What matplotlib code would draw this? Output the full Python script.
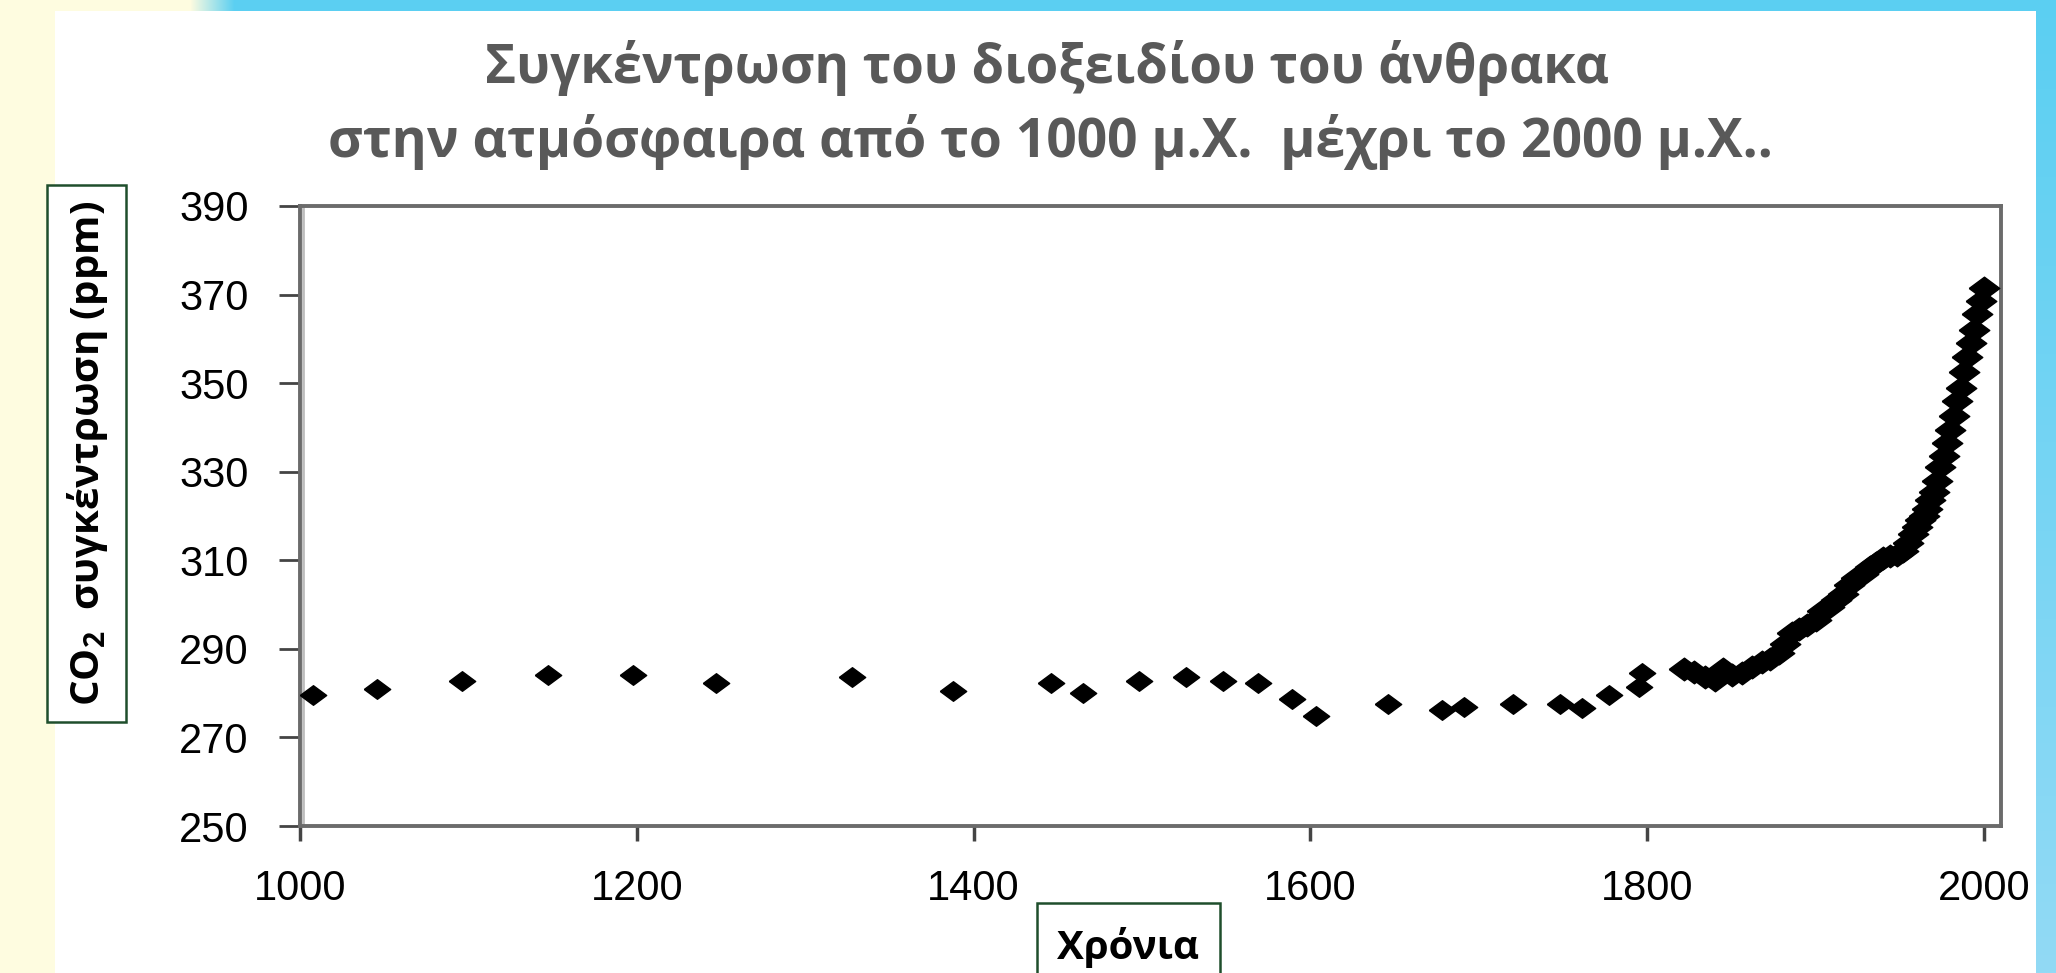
import numpy as np
import matplotlib
matplotlib.use('Agg')
import matplotlib.pyplot as plt
from matplotlib.patches import Rectangle

# early ice-core points (sparse)
years_early = [1008, 1046, 1096, 1147, 1198, 1247, 1328, 1388, 1446, 1465,
               1498, 1526, 1548, 1569, 1589, 1603, 1646, 1678, 1691, 1720,
               1748, 1761, 1777, 1795, 1797]
co2_early = [279.6, 280.9, 282.7, 284.2, 284.2, 282.2, 283.6, 280.4, 282.2, 280.0,
             282.7, 283.6, 282.7, 282.2, 278.7, 274.9, 277.5, 276.2, 276.9, 277.5,
             277.5, 276.7, 279.6, 281.3, 284.6]

# industrial era (dense)
years_late = [1822, 1828, 1834, 1840, 1845, 1850, 1856, 1862, 1868, 1873,
              1878, 1882, 1886, 1890, 1895, 1900, 1904, 1908, 1912, 1916,
              1920, 1924, 1928, 1932, 1936, 1940, 1944, 1948, 1952, 1955,
              1958, 1960, 1962, 1964, 1966, 1968, 1970, 1972, 1974, 1976,
              1978, 1980, 1982, 1984, 1986, 1988, 1990, 1992, 1994, 1996,
              1998, 2000]
co2_late = [285.5, 284.8, 283.6, 283.0, 285.5, 284.0, 284.5, 286.0, 287.0, 287.8,
            289.0, 291.0, 293.5, 294.5, 295.5, 296.5, 298.5, 299.5, 301.0, 302.5,
            304.5, 306.0, 307.0, 308.5, 309.5, 310.5, 311.0, 311.2, 312.0, 314.0,
            316.0, 317.5, 319.0, 320.0, 321.5, 323.5, 325.5, 328.0, 331.0, 333.5,
            336.5, 339.5, 342.5, 346.0, 349.0, 352.5, 356.0, 359.0, 362.0, 365.5,
            368.5, 371.5]

xticks = [1000, 1200, 1400, 1600, 1800, 2000]
yticks = [250, 270, 290, 310, 330, 350, 370, 390]

title1 = 'Συγκέντρωση του διοξειδίου του άνθρακα'
title2 = 'στην ατμόσφαιρα από το 1000 μ.Χ.  μέχρι το 2000 μ.Χ..'
ylab = 'CO$_{2}$  συγκέντρωση (ppm)'
xlab = 'Χρόνια'

W, H = 2056, 973
fig = plt.figure(figsize=(W / 100, H / 100), dpi=100)

# slide background
bg = np.ones((H, W, 3))
blue_top = np.array([0x5b, 0xcf, 0xf2]) / 255
blue_bot = np.array([0x92, 0xda, 0xf5]) / 255
yellow = np.array([0xfe, 0xfc, 0xe0]) / 255
t = np.linspace(0, 1, H)[:, None]
bg[:, 2036:] = (blue_top + (blue_bot - blue_top) * t)[:, None, :]
bg[:, :55] = yellow
bg[:11, :190] = yellow
g = np.linspace(0, 1, 45)[:, None]
bg[:11, 190:235] = (yellow + (blue_top - yellow) * g)[None, :, :]
bg[:11, 235:] = blue_top
bax = fig.add_axes([0, 0, 1, 1], zorder=-5)
bax.imshow(bg, aspect='auto', interpolation='nearest')
bax.axis('off')

def fx(px):
    return px / W

def fy(py):
    return 1 - py / H

ax = fig.add_axes([fx(300), fy(826), fx(2001) - fx(300), fy(206) - fy(826)])
ax.set_facecolor('white')

diamond = [(-1.35, 0), (0, 1), (1.35, 0), (0, -1), (-1.35, 0)]
ax.plot(years_early, co2_early, linestyle='none', marker=diamond, markersize=19,
        color='black', clip_on=False, zorder=5)
ax.plot(years_late, co2_late, linestyle='none', marker=diamond, markersize=22,
        color='black', clip_on=False, zorder=5)

ax.set_xlim(1000, 2010)
ax.set_ylim(250, 390)
ax.set_xticks(xticks)
ax.set_yticks(yticks)

for s in ax.spines.values():
    s.set_color('#6b6b6b')
    s.set_linewidth(2.8)
ax.axvline(1002, color='#bdbdbd', lw=2, zorder=1)

ax.tick_params(axis='y', direction='out', length=15, width=2, color='#444444',
               pad=22, labelsize=30, labelcolor='black')
ax.tick_params(axis='x', direction='out', length=11, width=2.5, color='#444444',
               pad=20, labelsize=30, labelcolor='black')
for lab in ax.get_xticklabels() + ax.get_yticklabels():
    lab.set_fontfamily('Liberation Sans')

plt.rcParams['mathtext.fontset'] = 'custom'
plt.rcParams['mathtext.rm'] = 'Open Sans:bold'
plt.rcParams['mathtext.it'] = 'Open Sans:bold'
plt.rcParams['mathtext.bf'] = 'Open Sans:bold'

tfont = ['Open Sans', 'DejaVu Sans']
fig.text(fx(1047), fy(83), title1, ha='center', va='baseline', fontsize=38,
         fontweight='bold', color='#595959', family=tfont)
fig.text(fx(1050), fy(157), title2, ha='center', va='baseline', fontsize=38.5,
         fontweight='bold', color='#595959', family=tfont)

# y label box
fig.patches.append(Rectangle((fx(47), fy(722)), fx(126) - fx(47), fy(185) - fy(722),
                             transform=fig.transFigure, facecolor='white',
                             edgecolor='#1f4e2c', lw=1.8, zorder=2))
fig.text(fx(88), fy(453), ylab, ha='center', va='center', rotation=90,
         fontsize=29, fontweight='bold', color='black', family=tfont, zorder=3)

# x label box
fig.patches.append(Rectangle((fx(1037), fy(985)), fx(1220) - fx(1037), fy(903) - fy(985),
                             transform=fig.transFigure, facecolor='white',
                             edgecolor='#1f4e2c', lw=1.8, zorder=2, clip_on=False))
fig.text(fx(1128), fy(947), xlab, ha='center', va='center', fontsize=29,
         fontweight='bold', color='black', family=tfont, zorder=3)

fig.savefig('out.png', dpi=100)
